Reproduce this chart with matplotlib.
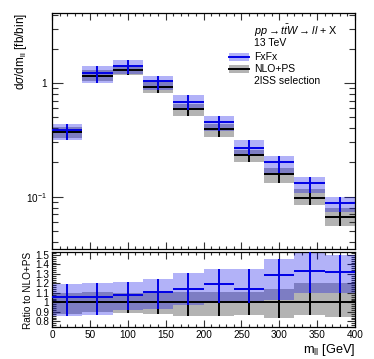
import numpy as np
import matplotlib
matplotlib.use("Agg")
import matplotlib.pyplot as plt
from matplotlib.ticker import MultipleLocator, FixedLocator, NullFormatter, FixedFormatter
from matplotlib.patches import Rectangle
from matplotlib.lines import Line2D

plt.rcParams['font.family'] = ['Liberation Sans', 'DejaVu Sans']
plt.rcParams['mathtext.fontset'] = 'custom'
plt.rcParams['mathtext.rm'] = 'Liberation Sans'
plt.rcParams['mathtext.it'] = 'Liberation Sans:italic'
plt.rcParams['mathtext.bf'] = 'Liberation Sans:bold'

# ---- data ----
bin_edges = [0, 40, 80, 120, 160, 200, 240, 280, 320, 360, 400]
nlo_ps = [0.370, 1.16, 1.31, 0.93, 0.59, 0.39, 0.233, 0.158, 0.0968, 0.0658]
fxfx = [0.387, 1.23, 1.42, 1.03, 0.675, 0.455, 0.267, 0.201, 0.131, 0.0885]
ratio_fxfx = [1.06, 1.055, 1.08, 1.11, 1.14, 1.195, 1.14, 1.29, 1.335, 1.325]
fxfx_band_lo = [0.86, 0.865, 0.92, 0.935, 0.97, 0.99, 0.99, 1.03, 1.10, 1.10]
fxfx_band_hi = [1.19, 1.20, 1.21, 1.245, 1.31, 1.35, 1.35, 1.46, 1.53, 1.50]
nlo_band_lo = [0.88, 0.90, 0.89, 0.875, 0.86, 0.86, 0.87, 0.83, 0.87, 0.845]
nlo_band_hi = [1.10, 1.11, 1.10, 1.11, 1.11, 1.11, 1.11, 1.14, 1.20, 1.205]
x_ticks = [0, 50, 100, 150, 200, 250, 300, 350, 400]
ratio_ticks = [0.8, 0.9, 1.0, 1.1, 1.2, 1.3, 1.4, 1.5]
ratio_ticklabels = ["0.8", "0.9", "1", "1.1", "1.2", "1.3", "1.4", "1.5"]

edges = np.array(bin_edges, dtype=float)
left = edges[:-1]
right = edges[1:]
width = np.diff(edges)
centers = 0.5 * (left + right)
nlo = np.array(nlo_ps)
fx = np.array(fxfx)
rat = np.array(ratio_fxfx)
f_lo = np.array(fxfx_band_lo)
f_hi = np.array(fxfx_band_hi)
g_lo = np.array(nlo_band_lo)
g_hi = np.array(nlo_band_hi)

W, H = 374, 359
fig = plt.figure(figsize=(W / 100, H / 100), dpi=100)

def fx_(px):
    return px / W

def fy_(py):
    return 1 - py / H

ax_l, ax_r = 52, 355
main_top, main_bot = 13.3, 249
rat_top, rat_bot = 251.7, 327.3

ax = fig.add_axes([fx_(ax_l), fy_(main_bot), fx_(ax_r - ax_l), (main_bot - main_top) / H])
axr = fig.add_axes([fx_(ax_l), fy_(rat_bot), fx_(ax_r - ax_l), (rat_bot - rat_top) / H])

GRAY = '#b3b3b3'
BLUE_BAND = (0.0, 0.0, 0.92)
BAND_ALPHA = 0.30
BLUE = '#0000e6'
lw = 1.4

# ---- main panel ----
ax.set_yscale('log')
g_lo_abs = nlo * g_lo
g_hi_abs = nlo * g_hi
f_lo_abs = fx * f_lo / rat
f_hi_abs = fx * f_hi / rat
ax.bar(left, g_hi_abs - g_lo_abs, bottom=g_lo_abs, width=width, align='edge',
       color=GRAY, linewidth=0, zorder=1)
ax.bar(left, f_hi_abs - f_lo_abs, bottom=f_lo_abs, width=width, align='edge',
       color=BLUE_BAND, alpha=BAND_ALPHA, linewidth=0, zorder=2)
ax.hlines(nlo, left, right, color='black', lw=lw, zorder=3)
ax.vlines(centers, g_lo_abs, g_hi_abs, color='black', lw=lw, zorder=3)
ax.hlines(fx, left, right, color=BLUE, lw=lw, zorder=4)
ax.vlines(centers, f_lo_abs, f_hi_abs, color=BLUE, lw=lw, zorder=4)

ax.set_xlim(0, 400)
ax.set_ylim(0.0346, 4.1)
ax.xaxis.set_major_locator(FixedLocator(x_ticks))
ax.xaxis.set_minor_locator(MultipleLocator(10))
ax.xaxis.set_major_formatter(NullFormatter())
ax.yaxis.set_major_locator(FixedLocator([0.1, 1]))
ax.yaxis.set_major_formatter(FixedFormatter([r'$10^{-1}$', '1']))
ax.yaxis.set_minor_locator(FixedLocator(
    [0.04, 0.05, 0.06, 0.07, 0.08, 0.09, 0.2, 0.3, 0.4, 0.5, 0.6, 0.7, 0.8, 0.9, 2, 3, 4]))
ax.yaxis.set_minor_formatter(NullFormatter())
ax.tick_params(axis='both', which='both', direction='in', top=True, right=True,
               labelsize=7.2, width=0.8, color='#333333')
ax.tick_params(axis='y', which='major', length=8)
ax.tick_params(axis='y', which='minor', length=4.5)
ax.tick_params(axis='x', which='major', length=5)
ax.tick_params(axis='x', which='minor', length=2.5)
for s in ax.spines.values():
    s.set_linewidth(0.9)

# ---- ratio panel ----
axr.bar(left, g_hi - g_lo, bottom=g_lo, width=width, align='edge',
        color=GRAY, linewidth=0, zorder=1)
axr.bar(left, f_hi - f_lo, bottom=f_lo, width=width, align='edge',
        color=BLUE_BAND, alpha=BAND_ALPHA, linewidth=0, zorder=2)
axr.hlines(np.ones_like(nlo), left, right, color='black', lw=lw, zorder=3)
axr.vlines(centers, g_lo, g_hi, color='black', lw=lw, zorder=3)
axr.hlines(rat, left, right, color=BLUE, lw=lw, zorder=4)
axr.vlines(centers, f_lo, f_hi, color=BLUE, lw=lw, zorder=4)
axr.set_xlim(0, 400)
axr.set_ylim(0.737, 1.535)
axr.xaxis.set_major_locator(FixedLocator(x_ticks))
axr.xaxis.set_minor_locator(MultipleLocator(10))
axr.yaxis.set_major_locator(FixedLocator(ratio_ticks))
axr.yaxis.set_major_formatter(FixedFormatter(ratio_ticklabels))
axr.yaxis.set_minor_locator(MultipleLocator(0.02))
axr.tick_params(axis='both', which='both', direction='in', top=True, right=True,
                labelsize=7.2, width=0.8, color='#333333', pad=2)
axr.tick_params(axis='y', which='major', length=5.5)
axr.tick_params(axis='y', which='minor', length=3)
axr.tick_params(axis='x', which='major', length=5)
axr.tick_params(axis='x', which='minor', length=2.5)
for s in axr.spines.values():
    s.set_linewidth(0.9)

# ---- axis labels ----
fig.text(fx_(21), fy_(13.5), r'd$\sigma$/dm$_{\mathrm{ll}}$ [fb/bin]', rotation=90,
         ha='center', va='top', fontsize=8.5)
fig.text(fx_(28), fy_(252), 'Ratio to NLO+PS', rotation=90,
         ha='center', va='top', fontsize=7.2)
fig.text(fx_(355), fy_(353), r'm$_{\mathrm{ll}}$ [GeV]', ha='right', va='baseline',
         fontsize=9.2)

# ---- legend ----
tx = 254
fig.text(fx_(tx), fy_(31), r'$pp \rightarrow t\bar{t}W \rightarrow ll$ + X', ha='left',
         va='center', fontsize=7.8)
fig.text(fx_(tx), fy_(43.3), '13 TeV', ha='left', va='center', fontsize=7.5)
fig.text(fx_(tx), fy_(56.5), 'FxFx', ha='left', va='center', fontsize=7.5)
fig.text(fx_(tx), fy_(68.8), 'NLO+PS', ha='left', va='center', fontsize=7.5)
fig.text(fx_(tx), fy_(81), '2lSS selection', ha='left', va='center', fontsize=7.5)

bx0, bx1 = 229, 249
for yc, fc, alpha, lc in [(56.7, BLUE_BAND, BAND_ALPHA, BLUE), (68.7, GRAY, 1.0, 'black')]:
    fig.patches.append(Rectangle((fx_(bx0), fy_(yc + 4)), fx_(bx1 - bx0), 8 / H,
                                 transform=fig.transFigure, facecolor=fc, alpha=alpha,
                                 linewidth=0, figure=fig))
    fig.lines.append(Line2D([fx_(bx0), fx_(bx1)], [fy_(yc), fy_(yc)],
                            transform=fig.transFigure, color=lc, lw=lw, figure=fig))

fig.savefig('out.png', dpi=100)
